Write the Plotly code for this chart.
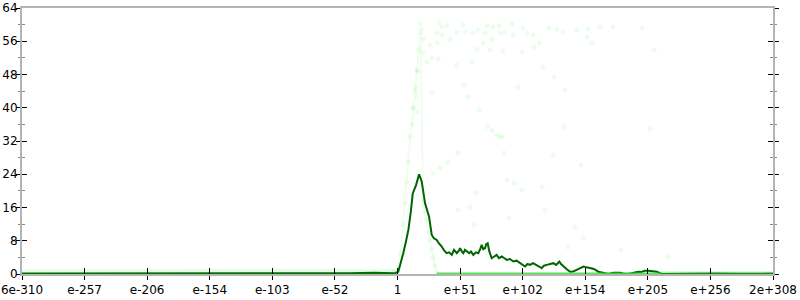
import plotly.graph_objects as go

# ---------------- data ----------------
# x positions are log10 of the value
tick_vals = [-309.2, -257.7, -206.3, -154.8, -103.4, -51.9, -0.5, 51.0, 102.5, 153.9, 205.4, 256.8, 308.3]
tick_text = ["6e-310", "e-257", "e-206", "e-154", "e-103", "e-52", "1", "e+51", "e+102", "e+154", "e+205", "e+256", "2e+308"]

dark_x = [-309.2, -280, -250, -220, -190, -160, -130, -100, -70, -40, -20, -8, -4.9, -2.5, 0.2, 2.2, 4.3, 6.5, 8.5,
          10.5, 12.1, 14.8, 17.3, 19.5, 22.2, 25.5, 27.7, 29.5, 31.8, 33.5, 35.9, 38.0, 40.0, 42.0, 44.2, 46.0, 48.3,
          50.0, 51.0, 52.5, 53.7, 55.0, 56.5, 58.5, 60.0, 61.9, 64.0, 66.0, 67.5, 68.8, 70.0, 71.5, 72.5, 73.7, 75.0,
          77.0, 79.0, 81.1, 83.0, 85.3, 87.5, 89.4, 92.0, 94.8, 97.5, 100.3, 102.5, 104.4, 106.5, 108.5, 111.0, 114.0,
          116.0, 118.1, 120.0, 122.3, 125.0, 127.7, 130.0, 132.6, 134.0, 135.9, 138.5, 141.4, 144.0, 146.9, 149.5,
          152.4, 155.0, 157.9, 161.0, 164.7, 168.0, 172.9, 177.0, 182.6, 185.0, 188.1, 192.0, 197.6, 200.0, 203.0,
          205.8, 209.0, 212.7, 216.8, 225.0, 240.0, 260.0, 280.0, 300.0, 308.3]
dark_y = [0.1, 0.1, 0.1, 0.1, 0.1, 0.1, 0.1, 0.1, 0.15, 0.2, 0.3, 0.35, 0.3, 0.2, 0.55, 2.5, 5.0, 7.8, 10.6,
          15.0, 19.4, 21.4, 24.0, 22.2, 17.0, 13.8, 9.4, 8.6, 8.2, 7.4, 6.6, 5.6, 5.0, 5.2, 4.6, 5.8, 5.0,
          5.6, 6.2, 5.4, 5.0, 5.8, 5.4, 5.0, 5.4, 4.6, 5.2, 5.0, 6.0, 7.0, 6.0, 6.2, 7.2, 7.4, 5.5,
          3.8, 4.2, 4.6, 3.8, 4.2, 3.8, 3.4, 3.6, 3.0, 3.2, 2.6, 2.2, 1.8, 2.4, 2.2, 2.6, 2.2,
          1.8, 1.4, 2.0, 2.2, 2.4, 2.6, 2.2, 3.0, 2.4, 1.8, 1.2, 0.55, 0.6, 1.0, 1.4,
          1.8, 1.6, 1.4, 1.2, 0.55, 0.4, 0.0, 0.3, 0.3, 0.1, 0.0, 0.2, 0.55, 0.5, 0.8,
          0.8, 0.6, 0.55, 0.0, 0.05, 0.05, 0.1, 0.05, 0.1, 0.1]

# faint light series around the peak
light_x = [-4.0, -0.8, 2.0, 4.1, 5.7, 7.1, 8.6, 9.9, 11.5, 12.5, 14.0, 15.6, 17.0, 18.5,
           20.5, 22.0, 23.5, 25.0, 26.3, 27.5, 28.8, 30.3, 31.8]
light_y = [0.5, 0.5, 5.0, 12.0, 17.0, 22.0, 27.0, 33.0, 36.0, 40.0, 44.0, 49.0, 54.0, 58.0,
           17.8, 15.0, 13.0, 10.0, 8.2, 6.0, 4.0, 2.0, 0.5]

# faint scattered points
cloud_x = [18.1, 18.9, 20.5, 33.7, 36.2, 40.3, 32.1, 36.2, 42.7, 48.5, 53.4, 55.1, 61.7, 65.8, 73.2, 78.1, 83.0,
           71.5, 77.3, 83.9, 88.0, 93.7, 94.6, 102.8, 106.1, 111.0, 115.9, 111.8, 124.2, 130.7, 135.7, 147.2,
           156.2, 155.4, 159.5, 166.1, 26.3, 32.1, 20.5, 27.9, 23.8, 32.9, 48.5, 60.8, 64.9, 69.9, 75.6, 86.3,
           101.9, 119.2, 128.3, 15.6, 14.8, 15.6, 27.9, 54.2, 57.5, 98.7, 137.3, 12.3, 15.6, 66.6,
           73.2, 77.3, 83.9, 87.1, 49.3, 41.1, 34.5, 28.8, 89.6, 95.4, 101.9, 118.4, 127.4, 136.5, 150.4,
           64.1, 59.2, 49.3, 120.9, 91.3, 62.5, 145.5, 152.1, 139.8, 176.8, 200.6, 210.5, 207.2, 183.3, 222.0,
           81.4, 85.5]
cloud_y = [60.2, 58.9, 56.5, 60.4, 59.4, 59.7, 58.0, 57.5, 56.5, 58.2, 59.9, 58.2, 58.0, 58.7, 59.7, 59.4, 59.7,
           58.0, 56.5, 58.0, 58.2, 60.2, 57.5, 59.2, 58.0, 57.5, 55.6, 54.6, 59.2, 58.9, 58.2, 58.7,
           58.9, 57.0, 55.6, 59.4, 55.1, 55.6, 53.2, 52.0, 51.0, 51.7, 50.3, 51.0, 54.1, 55.6, 53.9, 53.7,
           53.4, 49.8, 47.4, 48.8, 44.8, 42.6, 43.6, 45.5, 42.6, 45.0, 44.3, 39.9, 39.0, 39.5,
           35.4, 34.6, 33.0, 29.1, 29.1, 27.0, 25.5, 24.3, 22.6, 21.9, 20.2, 20.9, 28.6, 35.4, 26.2,
           19.5, 16.1, 15.4, 15.4, 13.5, 11.8, 11.3, 8.7, 6.5, 59.4, 59.2, 53.9, 34.9, 5.8, 4.1,
           33.4, 33.0]

# baseline bands of the light series
band_left_x = [-309.2, -200.0, -100.0, -30.0, -2.0]
band_left_y = [0.4, 0.4, 0.4, 0.5, 0.5]
band_bright_x = [31.8, 100.0, 216.0]
band_bright_y = [0.0, 0.0, 0.0]
band_right_x = [216.0, 260.0, 308.3]
band_right_y = [0.1, 0.1, 0.1]

# ---------------- figure ----------------
fig = go.Figure()

fig.add_trace(go.Scatter(x=band_left_x, y=band_left_y, mode="lines", xaxis="x2", yaxis="y2",
                         line=dict(color="rgba(0,230,0,0.10)", width=6), hoverinfo="skip"))
fig.add_trace(go.Scatter(x=band_right_x, y=band_right_y, mode="lines", xaxis="x2", yaxis="y2",
                         line=dict(color="rgba(50,225,50,0.35)", width=4), hoverinfo="skip"))
fig.add_trace(go.Scatter(x=band_bright_x, y=band_bright_y, mode="lines", xaxis="x2", yaxis="y2",
                         line=dict(color="rgba(50,225,50,0.85)", width=3), hoverinfo="skip"))
fig.add_trace(go.Scatter(x=light_x, y=light_y, mode="lines+markers", xaxis="x2", yaxis="y2",
                         line=dict(color="rgba(0,230,0,0.06)", width=2),
                         marker=dict(color="rgba(0,230,0,0.07)", size=5), hoverinfo="skip"))
fig.add_trace(go.Scatter(x=cloud_x, y=cloud_y, mode="markers", xaxis="x2", yaxis="y2",
                         marker=dict(color="rgba(0,230,0,0.07)", size=5), hoverinfo="skip"))
fig.add_trace(go.Scatter(x=dark_x, y=dark_y, mode="lines",
                         line=dict(color="#006400", width=2)))

xr = [tick_vals[0], tick_vals[-1]]
font = dict(family="DejaVu Sans", size=12, color="black")
axis_line = dict(showline=True, linecolor="#b4b4b4", linewidth=2, showgrid=False, zeroline=False,
                 automargin=False)

fig.update_layout(
    width=800, height=300, autosize=False,
    margin=dict(l=22, r=27, t=8, b=26),
    paper_bgcolor="white", plot_bgcolor="white",
    showlegend=False,
    font=font,
    xaxis=dict(range=xr, tickvals=tick_vals, ticktext=tick_text, ticks="outside", ticklen=4,
               tickcolor="black", tickwidth=1, mirror=True, tickfont=font, **axis_line),
    xaxis2=dict(range=xr, overlaying="x", side="bottom", tickvals=tick_vals, ticks="inside", ticklen=6,
                tickcolor="black", tickwidth=1, showticklabels=False, showline=False,
                showgrid=False, zeroline=False, automargin=False),
    yaxis=dict(range=[0, 64], tick0=0, dtick=8, ticks="outside", ticklen=4, tickcolor="black",
               tickwidth=1, mirror="allticks", tickfont=font, ticklabelstandoff=-4,
               minor=dict(dtick=4, tick0=0, ticks="outside", ticklen=2, tickcolor="#888888", tickwidth=1),
               **axis_line),
    yaxis2=dict(range=[0, 64], overlaying="y", side="left", tick0=0, dtick=8, ticks="inside", ticklen=5,
                tickcolor="black", tickwidth=1, mirror="allticks", showticklabels=False,
                minor=dict(dtick=4, tick0=0, ticks="inside", ticklen=3, tickcolor="#888888", tickwidth=1),
                showline=True, linecolor="#b4b4b4", linewidth=2, showgrid=False, zeroline=False,
                automargin=False),
)

fig.write_html("out.html")
